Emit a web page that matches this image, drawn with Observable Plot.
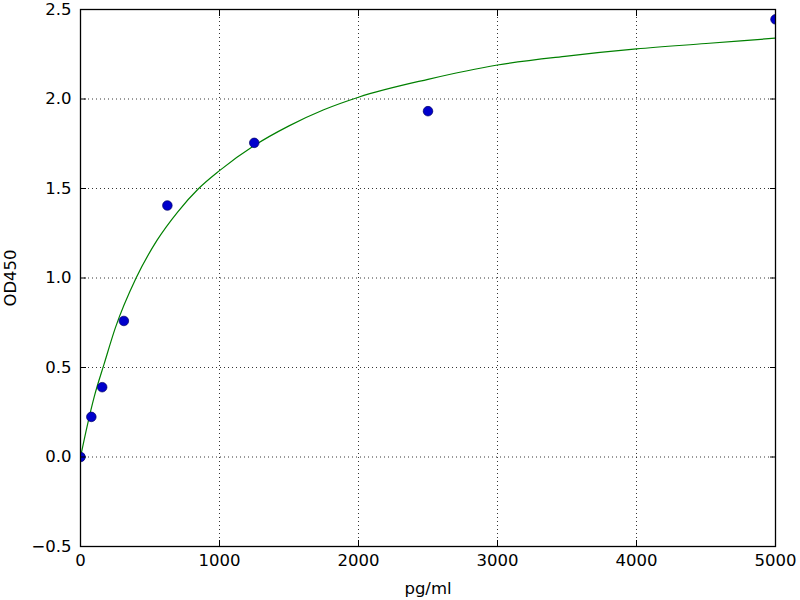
<!DOCTYPE html>
<html>
<head>
<meta charset="utf-8">
<script src="https://cdn.jsdelivr.net/npm/d3@7"></script>
<script src="https://cdn.jsdelivr.net/npm/@observablehq/plot@0.6"></script>
<style>
  body { margin: 0; background: #fff; }
</style>
</head>
<body>
<div id="chart"></div>
<script>
// standards (measured points)
const stdConc = [0, 78, 156, 312, 625, 1250, 2500, 5000];
const stdOD = [0.0, 0.224, 0.39, 0.76, 1.405, 1.755, 1.932, 2.445];

// fitted curve
const fitConc = [0, 50, 100, 170, 250, 400, 550, 700, 850, 1000, 1250, 1500, 1750, 2000, 2500, 3000, 3500, 4000, 4500, 5000];
const fitOD = [0, 0.18, 0.34, 0.52, 0.72, 1.0, 1.21, 1.37, 1.5, 1.6, 1.74, 1.85, 1.94, 2.01, 2.11, 2.19, 2.24, 2.28, 2.31, 2.34];

const xTicks = [0, 1000, 2000, 3000, 4000, 5000];
const yTicks = [-0.5, 0.0, 0.5, 1.0, 1.5, 2.0, 2.5];

const std = stdConc.map((c, i) => ({conc: c, od: stdOD[i]}));
const fit = fitConc.map((c, i) => ({conc: c, od: fitOD[i]}));

const grid = {stroke: "black", strokeOpacity: 1, strokeWidth: 0.8, strokeDasharray: "1,3"};

let chart = Plot.plot({
  width: 800,
  height: 600,
  marginLeft: 80,
  marginRight: 25,
  marginTop: 9,
  marginBottom: 54,
  x: {domain: [0, 5000]},
  y: {domain: [-0.5, 2.5]},
  style: {
    fontFamily: "DejaVu Sans",
    fontSize: "16.5px",
    color: "black",
    background: "white"
  },
  marks: [
    Plot.gridX(xTicks, grid),
    Plot.gridY(yTicks, grid),
    Plot.line(fit, {x: "conc", y: "od", stroke: "#008000", strokeWidth: 1.2, curve: "monotone-x", clip: true}),
    Plot.dot(std, {x: "conc", y: "od", r: 4.8, fill: "#0000cc", stroke: "#000066", strokeWidth: 0.7, clip: true}),
    Plot.axisX(xTicks, {tickSize: -6, tickPadding: 14, tickFormat: "d", label: "pg/ml", labelAnchor: "center", labelOffset: 47, labelArrow: "none"}),
    Plot.axisX(xTicks, {anchor: "top", tickSize: -6, tickFormat: () => "", label: null}),
    Plot.axisY(yTicks, {tickSize: -6, tickPadding: 15, tickFormat: ".1f", label: "OD450", labelAnchor: "center", labelOffset: 76, labelArrow: "none"}),
    Plot.axisY(yTicks, {anchor: "right", tickSize: -6, tickFormat: () => "", label: null}),
    Plot.frame({stroke: "black", strokeWidth: 1.3})
  ]
});

d3.select("#chart").append(() => chart);
</script>
</body>
</html>
